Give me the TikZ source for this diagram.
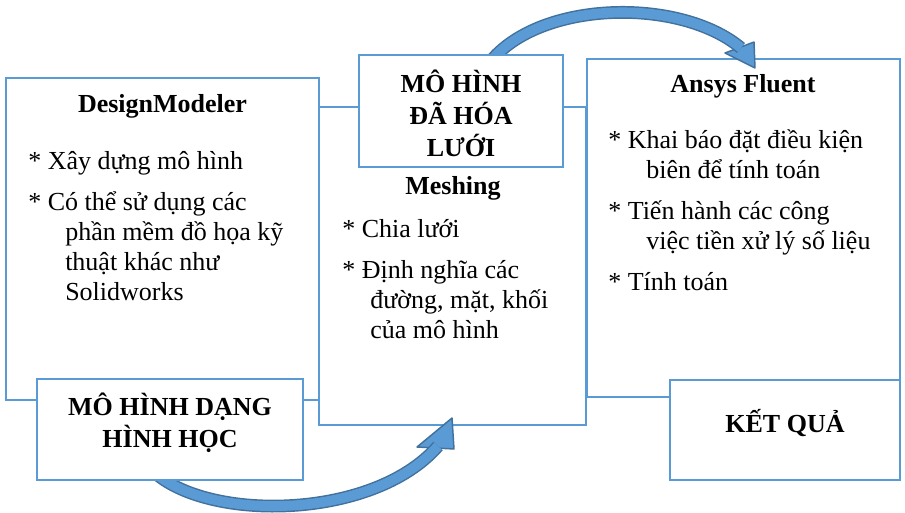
\documentclass[tikz,border=0pt]{standalone}
\usepackage{fontspec}
\setmainfont{Liberation Serif}
\usetikzlibrary{positioning}
\definecolor{boxblue}{HTML}{5B9BD5}
\definecolor{arrowedge}{HTML}{41719C}

\tikzset{
	panel/.style={draw=boxblue, line width=1.8pt, fill=white, inner sep=0pt, outer sep=0pt, anchor=north west},
	boxsize/.style 2 args={minimum width={#1*0.75pt}, minimum height={#2*0.75pt}},
	title/.style={font=\bfseries\fontsize{19.5}{24}\selectfont, align=center, inner sep=0pt},
	body/.style={align=left, inner sep=0pt, anchor=base west}, % base = last line
	bendarrow/.style={draw=arrowedge, line width=1.1pt, double=boxblue, double distance=7.4pt},
	arrowhead/.style={draw=arrowedge, fill=boxblue, line width=1.1pt, line join=round}
}

\begin{document}
\begin{tikzpicture}[x=0.75pt, y=-0.75pt, font=\fontsize{19.5}{22.5}\selectfont]
	\useasboundingbox (0,0) rectangle (905,513);

	% the three stages
	\node[panel, boxsize={313}{322}] (design) at (6,78) {};
	\node[panel, boxsize={267}{318}] (mesh) at (319,107) {};
	\node[panel, boxsize={313}{338}] (fluent) at (587,59) {};

	% stage contents
	\node[title, anchor=base] (designtitle) at (162.5,113) {DesignModeler};
	\node[body] (designtext) at (28,300) {* Xây dựng mô hình\\[8pt]
		* Có thể sử dụng các\\
		\hspace*{27.75pt}phần mềm đồ họa kỹ\\
		\hspace*{27.75pt}thuật khác như\\
		\hspace*{27.75pt}Solidworks};

	\node[title, anchor=base] (meshtitle) at (453,195) {Meshing};
	\node[body] (meshtext) at (342,338) {* Chia lưới\\[8pt]
		* Định nghĩa các\\
		\hspace*{21pt}đường, mặt, khối\\
		\hspace*{21pt}của mô hình};

	\node[title, anchor=base] (fluenttitle) at (743,93) {Ansys Fluent};
	\node[body] (fluenttext) at (608,290) {* Khai báo đặt điều kiện\\
		\hspace*{28.5pt}biên để tính toán\\[8pt]
		* Tiến hành các công\\
		\hspace*{28.5pt}việc tiền xử lý số liệu\\[8pt]
		* Tính toán};

	% curved arrows between the stages
	\coordinate (lowtail) at (150,468);
	\coordinate (lowend) at (438,446);
	\draw[arrowhead] (417,447) -- (452,418) -- (454,449) -- cycle;
	\draw[bendarrow] (lowtail) .. controls (200,522) and (372,522) .. (lowend);

	\coordinate (uptail) at (490,62);
	\coordinate (upend) at (741,48);
	\draw[arrowhead] (725,53) -- (754,42) -- (755,68) -- cycle;
	\draw[bendarrow] (uptail) .. controls (540,0) and (680,-3) .. (upend);

	% intermediate results
	\node[panel, boxsize={266}{101}] (geo) at (37,379) {};
	\node[panel, boxsize={204}{112}] (grid) at (359,55) {};
	\node[panel, boxsize={230}{100}] (result) at (670,380) {};

	\node[title] (geolabel) at ([yshift=5pt]geo.center) {MÔ HÌNH DẠNG\\HÌNH HỌC};
	\node[title] (gridlabel) at ([yshift=-2pt]grid.center) {MÔ HÌNH\\ĐÃ HÓA\\LƯỚI};
	\node[title] (resultlabel) at ([yshift=5pt]result.center) {KẾT QUẢ};

\end{tikzpicture}
\end{document}
